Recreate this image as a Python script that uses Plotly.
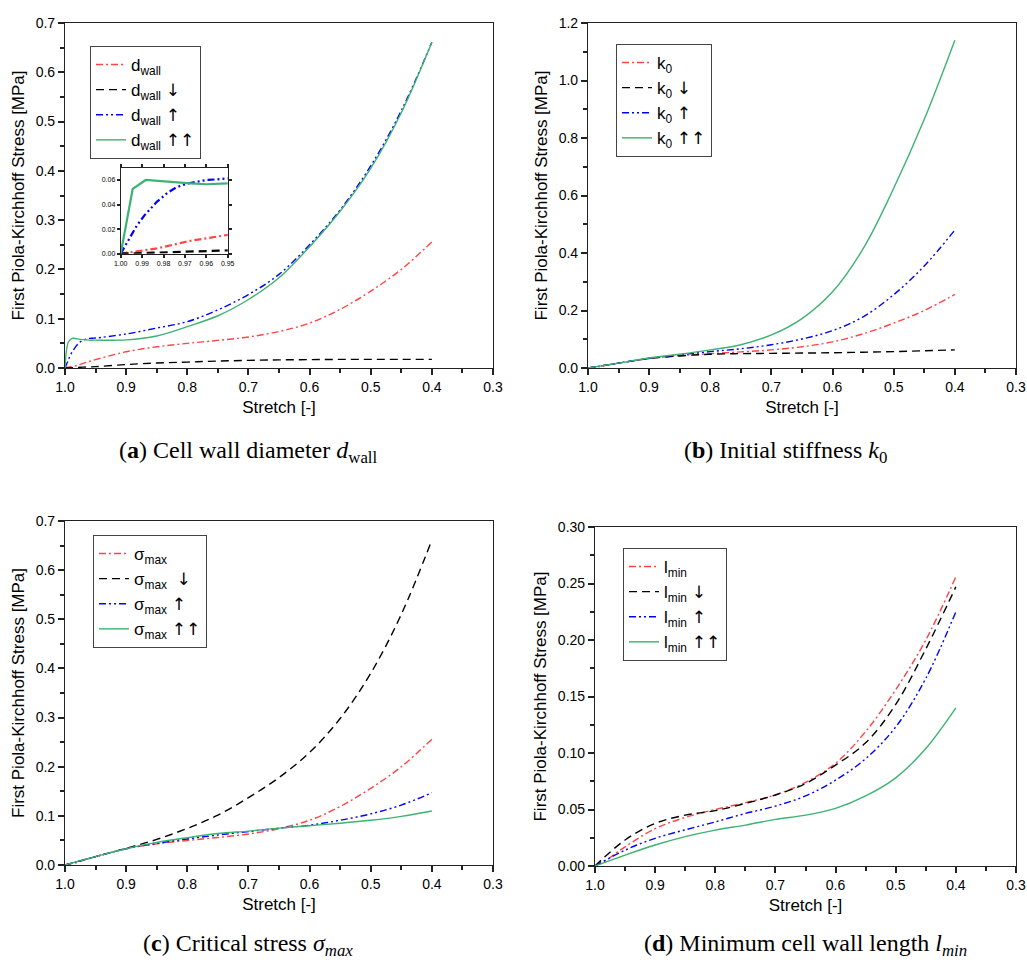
import plotly.graph_objects as go

W, H = 1027, 967

# ---------------- data ----------------
STRETCH = [1.0, 0.95, 0.9, 0.85, 0.8, 0.75, 0.7, 0.65, 0.6, 0.55, 0.5, 0.45, 0.4]

BASE_X = [1.0, 0.994, 0.983, 0.968, 0.95, 0.9, 0.85, 0.8, 0.75, 0.7, 0.65, 0.6, 0.55, 0.5, 0.45, 0.4]
BASE_Y = [0, 0.0016, 0.0043, 0.0103, 0.017, 0.033, 0.043, 0.050, 0.056, 0.063, 0.074, 0.091, 0.119, 0.156, 0.200, 0.256]

DW_DOWN_X = [1.0, 0.99, 0.98, 0.97, 0.96, 0.95, 0.9, 0.85, 0.8, 0.75, 0.7, 0.65, 0.6, 0.55, 0.5, 0.45, 0.4]
DW_DOWN_Y = [0, 0.0005, 0.0011, 0.0017, 0.0022, 0.0027, 0.007, 0.010, 0.012, 0.014, 0.0155, 0.0165, 0.017, 0.0175, 0.0176, 0.0176, 0.0176]
DW_UP_X = [1.0, 0.997, 0.9945, 0.9925, 0.989, 0.986, 0.983, 0.978, 0.974, 0.969, 0.964, 0.96, 0.955, 0.95,
           0.9, 0.85, 0.8, 0.75, 0.7, 0.65, 0.6, 0.55, 0.5, 0.45, 0.4]
DW_UP_Y = [0, 0.009, 0.0157, 0.0228, 0.031, 0.037, 0.0424, 0.0497, 0.054, 0.057, 0.059, 0.060, 0.0605, 0.0608,
           0.069, 0.081, 0.094, 0.118, 0.149, 0.190, 0.250, 0.321, 0.410, 0.522, 0.661]
DW_UPUP_X = [1.0, 0.9944, 0.9883, 0.9754, 0.9676, 0.96, 0.95, 0.9, 0.85, 0.8, 0.75, 0.7, 0.65, 0.6, 0.55, 0.5, 0.45, 0.4]
DW_UPUP_Y = [0, 0.0527, 0.060, 0.058, 0.0573, 0.0565, 0.0565, 0.057, 0.065, 0.084, 0.106, 0.139, 0.183, 0.246, 0.318, 0.405, 0.518, 0.661]

K0_DOWN = [0, 0.017, 0.033, 0.042, 0.048, 0.050, 0.051, 0.052, 0.053, 0.055, 0.057, 0.060, 0.063]
K0_UP = [0, 0.017, 0.034, 0.046, 0.057, 0.067, 0.081, 0.101, 0.130, 0.178, 0.255, 0.355, 0.480]
K0_UPUP = [0, 0.017, 0.035, 0.048, 0.063, 0.081, 0.115, 0.172, 0.265, 0.415, 0.625, 0.865, 1.140]

SIG_DOWN = [0, 0.017, 0.034, 0.052, 0.0745, 0.1016, 0.137, 0.178, 0.229, 0.298, 0.390, 0.510, 0.661]
SIG_UP = [0, 0.017, 0.033, 0.044, 0.053, 0.061, 0.068, 0.075, 0.081, 0.091, 0.104, 0.122, 0.147]
SIG_UPUP = [0, 0.017, 0.033, 0.046, 0.0556, 0.064, 0.069, 0.075, 0.080, 0.085, 0.091, 0.099, 0.110]

LM_DOWN = [0, 0.023, 0.0377, 0.045, 0.049, 0.0554, 0.0628, 0.073, 0.0893, 0.109, 0.143, 0.192, 0.247]
LM_UP = [0, 0.014, 0.0245, 0.032, 0.039, 0.0465, 0.053, 0.062, 0.076, 0.095, 0.123, 0.166, 0.225]
LM_UPUP = [0, 0.0097, 0.0186, 0.026, 0.0318, 0.0362, 0.0413, 0.045, 0.051, 0.062, 0.078, 0.104, 0.140]

ARROW_FONT = "font-family:DejaVu Sans"
LABEL_SUFFIX = ["",
                f" <span style='{ARROW_FONT}'>↓</span>",
                f" <span style='{ARROW_FONT}'>↑</span>",
                f" <span style='{ARROW_FONT}'>↑↑</span>"]

# ---------------- styles ----------------
RED, BLACK, BLUE, GREEN = "#FF4444", "#000000", "#0000FF", "#3CB371"
STYLES = [
    dict(color=RED, dash="7px,3px,2px,3px"),
    dict(color=BLACK, dash="8px,5px"),
    dict(color=BLUE, dash="7px,3px,2px,3px,2px,3px"),
    dict(color=GREEN, dash="solid"),
]
SANS = "Liberation Sans, DejaVu Sans, Arial, sans-serif"
SERIF = "Liberation Serif, DejaVu Serif, Times New Roman, serif"

fig = go.Figure()

# panel geometry in pixels: (left, right, top, bottom)
PANELS = {
    1: (65, 493, 23, 368),
    2: (588, 1016, 23, 368),
    3: (65, 493, 521, 865),
    4: (595, 1016, 527, 866),
}


def xdom(l, r):
    return [l / W, r / W]


def ydom(t, b):
    return [1 - b / H, 1 - t / H]


def px(x):
    return x / W


def py(y):
    return 1 - y / H


def add_series(panel, names, xs_list, ys_list, legend):
    xa = "x" if panel == 1 else f"x{panel}"
    ya = "y" if panel == 1 else f"y{panel}"
    for i, (nm, xs, ys) in enumerate(zip(names, xs_list, ys_list)):
        fig.add_trace(go.Scatter(
            x=xs, y=ys, mode="lines", name=nm,
            line=dict(color=STYLES[i]["color"], dash=STYLES[i]["dash"], width=1.4,
                      shape="spline", smoothing=1.0),
            xaxis=xa, yaxis=ya, legend=legend, legendgroup=f"{legend}_{i}",
        ))


names_a = ["d<sub>wall</sub>" + s for s in LABEL_SUFFIX]
names_b = ["k<sub>0</sub>" + s for s in LABEL_SUFFIX]
names_c = ["σ<sub>max</sub>", "σ<sub>max</sub> " + LABEL_SUFFIX[1], "σ<sub>max</sub>" + LABEL_SUFFIX[2],
           "σ<sub>max</sub>" + LABEL_SUFFIX[3]]
names_d = ["l<sub>min</sub>" + s for s in LABEL_SUFFIX]

add_series(1, names_a, [BASE_X, DW_DOWN_X, DW_UP_X, DW_UPUP_X],
           [BASE_Y, DW_DOWN_Y, DW_UP_Y, DW_UPUP_Y], "legend")
add_series(2, names_b, [BASE_X, STRETCH, STRETCH, STRETCH],
           [BASE_Y, K0_DOWN, K0_UP, K0_UPUP], "legend2")
add_series(3, names_c, [BASE_X, STRETCH, STRETCH, STRETCH],
           [BASE_Y, SIG_DOWN, SIG_UP, SIG_UPUP], "legend3")
add_series(4, names_d, [BASE_X, STRETCH, STRETCH, STRETCH],
           [BASE_Y, LM_DOWN, LM_UP, LM_UPUP], "legend4")

# inset (zoom of panel a)
for i, (xs, ys) in enumerate(zip([BASE_X, DW_DOWN_X, DW_UP_X, DW_UPUP_X],
                                 [BASE_Y, DW_DOWN_Y, DW_UP_Y, DW_UPUP_Y])):
    fig.add_trace(go.Scatter(
        x=xs, y=ys, mode="lines", showlegend=False,
        line=dict(color=STYLES[i]["color"], dash=STYLES[i]["dash"], width=2.2),
        xaxis="x5", yaxis="y5",
    ))

AXCOL = "#222222"
YMAX = {1: 0.7, 2: 1.2, 3: 0.7, 4: 0.30}
YDT = {1: 0.1, 2: 0.2, 3: 0.1, 4: 0.05}
YFMT = {1: ".1f", 2: ".1f", 3: ".1f", 4: ".2f"}
TL, TW, MTL, MTW = 6, 2, 4, 1.6

layout = dict(
    width=W, height=H, margin=dict(l=0, r=0, t=0, b=0, autoexpand=False),
    paper_bgcolor="white", plot_bgcolor="white",
    font=dict(family=SANS, color="black"),
)

for p, (l, r, t, b) in PANELS.items():
    xk = "xaxis" if p == 1 else f"xaxis{p}"
    yk = "yaxis" if p == 1 else f"yaxis{p}"
    xn = "x" if p == 1 else f"x{p}"
    yn = "y" if p == 1 else f"y{p}"
    layout[xk] = dict(
        domain=xdom(l, r), anchor=yn, range=[1.0, 0.3], tick0=0.3, dtick=0.1,
        tickformat=".1f", showline=True, linecolor=AXCOL, linewidth=1.2, showgrid=False, zeroline=False,
        ticks="outside", ticklen=TL, tickwidth=TW, tickcolor=AXCOL, mirror=True,
        minor=dict(ticks="outside", ticklen=MTL, tickwidth=MTW, dtick=0.05, tick0=0.3, tickcolor=AXCOL),
        automargin=False, tickfont=dict(size=14, family=SANS),
        title=dict(text="Stretch [-]", font=dict(size=17, family=SANS), standoff=7),
    )
    layout[yk] = dict(
        domain=ydom(t, b), anchor=xn, range=[0, YMAX[p]], tick0=0, dtick=YDT[p],
        tickformat=YFMT[p], showline=True, linecolor=AXCOL, linewidth=1.2, showgrid=False, zeroline=False,
        ticks="outside", ticklen=TL, tickwidth=TW, tickcolor=AXCOL, mirror=True,
        minor=dict(ticks="outside", ticklen=MTL, tickwidth=MTW, dtick=YDT[p] / 2, tick0=0, tickcolor=AXCOL),
        automargin=False, tickfont=dict(size=14, family=SANS),
        title=dict(text="First Piola-Kirchhoff Stress [MPa]", font=dict(size=17, family=SANS), standoff=6),
    )
    # inward-pointing ticks on the top and right frame edges
    layout[f"xaxis{p + 5}"] = dict(
        overlaying=xn, anchor=yn, side="top", range=[1.0, 0.3], tick0=0.3, dtick=0.1,
        showline=False, showgrid=False, zeroline=False, showticklabels=False, automargin=False,
        ticks="inside", ticklen=TL, tickwidth=TW, tickcolor=AXCOL,
        minor=dict(ticks="inside", ticklen=MTL, tickwidth=MTW, dtick=0.05, tick0=0.3, tickcolor=AXCOL),
    )
    layout[f"yaxis{p + 5}"] = dict(
        overlaying=yn, anchor=xn, side="right", range=[0, YMAX[p]], tick0=0, dtick=YDT[p],
        showline=False, showgrid=False, zeroline=False, showticklabels=False, automargin=False,
        ticks="inside", ticklen=TL, tickwidth=TW, tickcolor=AXCOL,
        minor=dict(ticks="inside", ticklen=MTL, tickwidth=MTW, dtick=YDT[p] / 2, tick0=0, tickcolor=AXCOL),
    )

layout["xaxis5"] = dict(
    domain=xdom(120.7, 227.7), anchor="y5", range=[1.0, 0.95], tick0=0.95, dtick=0.01,
    tickformat=".2f", showline=True, linecolor=AXCOL, linewidth=1, mirror="ticks", showgrid=False,
    zeroline=False, ticks="outside", ticklen=3, tickwidth=1.5, tickcolor=AXCOL,
    tickfont=dict(size=7, family=SANS), automargin=False,
)
layout["yaxis5"] = dict(
    domain=ydom(168.3, 253.7), anchor="x5", range=[0, 0.0695], tick0=0, dtick=0.02,
    tickformat=".2f", showline=True, linecolor=AXCOL, linewidth=1, mirror="ticks", showgrid=False,
    zeroline=False, ticks="outside", ticklen=3, tickwidth=1.5, tickcolor=AXCOL,
    tickfont=dict(size=7, family=SANS), automargin=False,
)

LEG = {"legend": (90, 46), "legend2": (616, 44), "legend3": (93, 535), "legend4": (623, 548)}
for k, (lx, ly) in LEG.items():
    layout[k] = dict(
        x=px(lx), y=py(ly), xanchor="left", yanchor="top", xref="paper", yref="paper",
        bgcolor="white", bordercolor="#444444", borderwidth=1,
        font=dict(size=17, family=SANS, color="black"), tracegroupgap=0, itemwidth=30,
    )

fig.update_layout(**layout)

CAPS = [
    ("(<b>a</b>) Cell wall diameter <i>d</i><sub>wall</sub>", 248, 452),
    ("(<b>b</b>) Initial stiffness <i>k</i><sub>0</sub>", 785, 452),
    ("(<b>c</b>) Critical stress <i>σ<sub>max</sub></i>", 248, 945),
    ("(<b>d</b>) Minimum cell wall length <i>l<sub>min</sub></i>", 805, 945),
]
for txt, cx, cy in CAPS:
    fig.add_annotation(text=txt, x=px(cx), y=py(cy), xref="paper", yref="paper",
                       xanchor="center", yanchor="middle", showarrow=False,
                       font=dict(size=24, family=SERIF, color="black"))

fig.write_html(
    "out.html",
    config={"displayModeBar": False},
    post_script="document.body.style.margin='0px';document.body.style.overflow='hidden';",
)
